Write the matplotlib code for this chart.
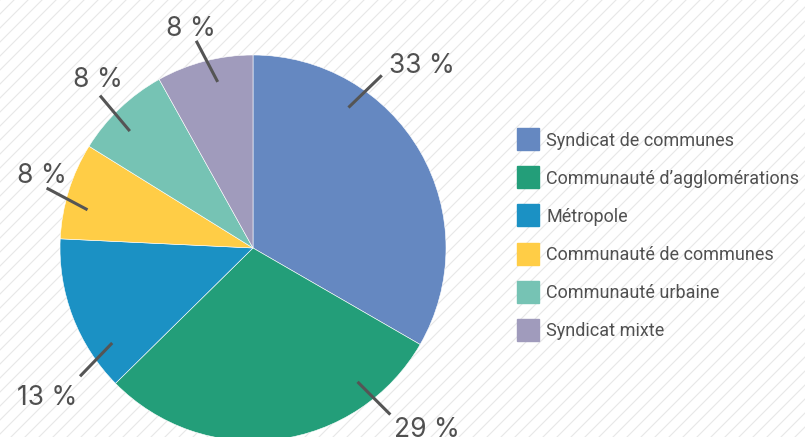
import matplotlib
matplotlib.use("Agg")
import matplotlib.pyplot as plt
import numpy as np
from matplotlib.patches import Rectangle

plt.rcParams["font.family"] = ["Roboto", "DejaVu Sans"]

# ---- data ----
categories = ["Syndicat de communes", "Communauté d’agglomérations", "Métropole",
              "Communauté de communes", "Communauté urbaine", "Syndicat mixte"]
shares = [33, 29, 13, 8, 8, 8]
labels = [f"{v} %" for v in shares]
colors = ["#6588C1", "#239E79", "#1B91C4", "#FFCD46", "#76C3B4", "#A09BBC"]

# ---- layout (label leader lines) ----
anchor_ang = [55.8, -52, -146, 167, 136.5, 102]     # degrees, where leader starts
leader_dir = [44, -45, -134, 152, 130, 117.6]       # degrees, leader direction
text_off = [(40, 2), (37, -22), (-33, -29), (-5, 5), (-2, 9), (-5, 5)]  # pixels

W, H = 805, 437
fig = plt.figure(figsize=(W / 100, H / 100), dpi=100)

bg = fig.add_axes([0, 0, 1, 1])
bg.set_xlim(0, W)
bg.set_ylim(H, 0)
bg.axis("off")
spacing = 14
for c in np.arange(-H, W + H, spacing):
    bg.plot([c, c + H], [H, 0], color="#e8e8e8", lw=0.8, zorder=0)

cx, cy, R = 253, 248, 193
ax = fig.add_axes([(cx - R) / W, (H - cy - R) / H, 2 * R / W, 2 * R / H])
ax.pie(shares, colors=colors, startangle=90, counterclock=False, radius=1,
       wedgeprops=dict(edgecolor="white", linewidth=0.4))
ax.set_xlim(-1, 1)
ax.set_ylim(-1, 1)
ax.axis("off")

for i, lab in enumerate(labels):
    a = np.radians(anchor_ang[i])
    d = np.radians(leader_dir[i])
    p0 = np.array([0.88 * np.cos(a), 0.88 * np.sin(a)])
    p1 = p0 + 0.24 * np.array([np.cos(d), np.sin(d)])
    ax.plot([p0[0], p1[0]], [p0[1], p1[1]], color="#555555", lw=2.2,
            solid_capstyle="butt", clip_on=False, zorder=5)
    ax.annotate(lab, xy=p1, xytext=text_off[i], textcoords="offset pixels",
                ha="center", va="baseline", fontsize=19, color="#505050",
                family=["Inter", "Roboto", "DejaVu Sans"],
                annotation_clip=False, zorder=6)

for i, cat in enumerate(categories):
    y = 139 + 38.2 * i
    bg.add_patch(Rectangle((517, y - 11), 22, 22, color=colors[i], zorder=2))
    bg.text(546, y + 6.5, cat, ha="left", va="baseline", fontsize=13,
            color="#505050", zorder=3)

fig.savefig("out.png", dpi=100)
